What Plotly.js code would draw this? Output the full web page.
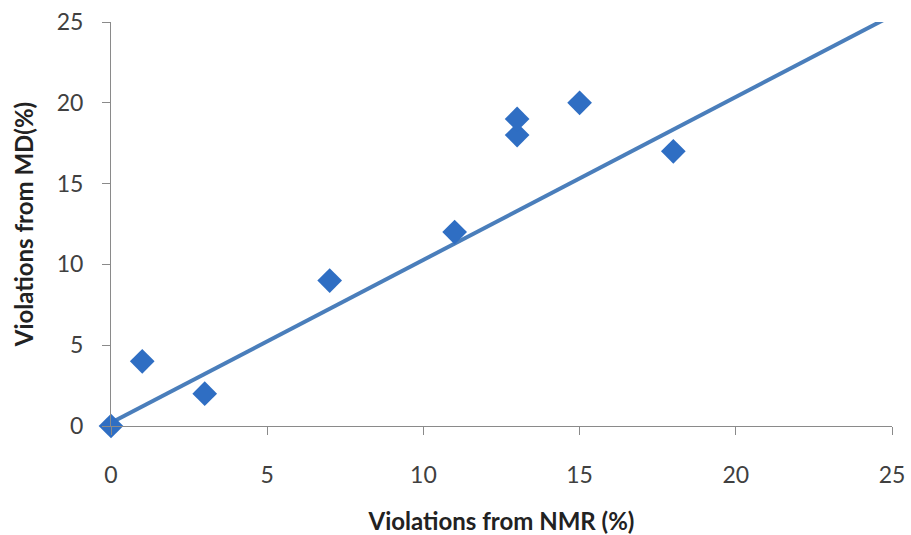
<!DOCTYPE html>
<html>
<head>
<meta charset="utf-8">
<script src="https://cdn.plot.ly/plotly-3.0.1.min.js"></script>
<style>
  html, body { margin: 0; padding: 0; background: #fff; }
  #chart { width: 911px; height: 535px; }
</style>
</head>
<body>
<div id="chart"></div>
<script>
// Violations (percent)
const nmrViolations = [0, 1, 3, 7, 11, 13, 13, 15, 18];
const mdViolations = [0, 4, 2, 9, 12, 18, 19, 20, 17];

// Trend line end points
const fitX = [0, 25];
const fitY = [0.2, 25.4];

const tickVals = [0, 5, 10, 15, 20, 25];

const blue = '#2f6ec3';
const lineBlue = '#4a7ebb';
const font = 'Lato, "Open Sans", sans-serif';

const traces = [
    {
        x: fitX,
        y: fitY,
        type: 'scatter',
        mode: 'lines',
        line: { color: lineBlue, width: 4 },
        cliponaxis: false,
        hoverinfo: 'skip'
    },
    {
        x: nmrViolations,
        y: mdViolations,
        type: 'scatter',
        mode: 'markers',
        marker: { symbol: 'diamond', size: 19, color: blue },
        cliponaxis: false
    }
];

const axisBase = {
    range: [0, 25],
    tickvals: tickVals,
    showgrid: false,
    zeroline: false,
    showline: true,
    linecolor: '#8a8a8a',
    linewidth: 1,
    ticks: 'outside',
    ticklen: 8,
    tickcolor: '#8a8a8a',
    tickfont: { family: font, size: 23, color: '#404040' },
    fixedrange: true
};

const layout = {
    width: 911,
    height: 535,
    margin: { l: 111, r: 19, t: 22, b: 109 },
    paper_bgcolor: '#fff',
    plot_bgcolor: '#fff',
    showlegend: false,
    xaxis: Object.assign({}, axisBase, {
        ticklabelstandoff: 20,
        title: {
            text: '<b>Violations from NMR (%)</b>',
            font: { family: font, size: 24, color: '#222' },
            standoff: 30
        }
    }),
    yaxis: Object.assign({}, axisBase, {
        ticklabelstandoff: 14,
        title: {
            text: '<b>Violations from MD(%)</b>',
            font: { family: font, size: 24, color: '#222' },
            standoff: 16
        }
    })
};

Plotly.newPlot('chart', traces, layout, { displayModeBar: false, staticPlot: true });
</script>
</body>
</html>
